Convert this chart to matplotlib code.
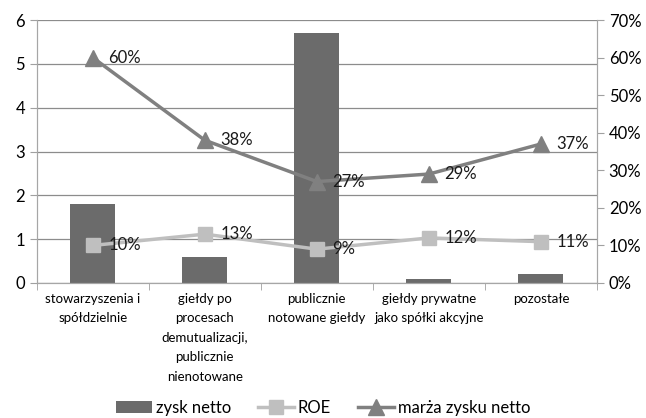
import numpy as np
import matplotlib.pyplot as plt
from matplotlib.ticker import PercentFormatter

plt.rcParams['font.family'] = ['Lato', 'DejaVu Sans']

# Data
categories = ['stowarzyszenia i\nspółdzielnie',
              'giełdy po\nprocesach\ndemutualizacji,\npublicznie\nnienotowane',
              'publicznie\nnotowane giełdy',
              'giełdy prywatne\njako spółki akcyjne',
              'pozostałe']
zysk_netto = [1.8, 0.6, 5.7, 0.1, 0.2]
roe = [10, 13, 9, 12, 11]
marza = [60, 38, 27, 29, 37]

x = np.arange(len(categories))

fig = plt.figure(figsize=(6.46, 4.18), dpi=100)
ax = fig.add_axes([0.057, 0.323, 0.867, 0.629])
ax2 = ax.twinx()

bars = ax.bar(x, zysk_netto, width=0.4, color='#6b6b6b', zorder=2, label='zysk netto')
ax.set_ylim(0, 6)
ax.set_xlim(-0.5, len(categories) - 0.5)
ax.set_yticks(range(7))
ax.grid(axis='y', color='#8c8c8c', linewidth=0.9, zorder=0)
ax.set_axisbelow(True)

l1, = ax2.plot(x, roe, color='#bfbfbf', linewidth=2.5, marker='s', markersize=10,
               label='ROE', zorder=3)
l2, = ax2.plot(x, marza, color='#808080', linewidth=2.5, marker='^', markersize=11,
               label='marża zysku netto', zorder=3)
ax2.set_ylim(0, 70)
ax2.set_yticks(range(0, 71, 10))
ax2.yaxis.set_major_formatter(PercentFormatter(decimals=0))

# data labels to the right of the markers
for xi, v in zip(x, roe):
    ax2.annotate(f'{v}%', (xi, v), xytext=(11, 0), textcoords='offset points',
                 va='center', ha='left', fontsize=12, color='#1a1a1a', zorder=4)
for xi, v in zip(x, marza):
    ax2.annotate(f'{v}%', (xi, v), xytext=(11, 0), textcoords='offset points',
                 va='center', ha='left', fontsize=12, color='#1a1a1a', zorder=4)

ax.set_xticks(x)
ax.set_xticklabels(categories, fontsize=9.5, va='top')
for lbl in ax.get_xticklabels():
    lbl.set_linespacing(1.75)
ax.tick_params(axis='x', which='major', length=0, pad=7)
ax.set_xticks(np.arange(-0.5, len(categories)), minor=True)
ax.tick_params(axis='x', which='minor', length=5, color='#a0a0a0')
ax.tick_params(axis='y', labelsize=12, length=5, color='#a0a0a0')
ax2.tick_params(axis='y', labelsize=12, length=5, color='#a0a0a0')

for a in (ax, ax2):
    a.spines['top'].set_visible(False)
    for s in ('left', 'right', 'bottom'):
        a.spines[s].set_color('#a6a6a6')

fig.legend([bars, l1, l2], ['zysk netto', 'ROE', 'marża zysku netto'],
           loc='lower center', bbox_to_anchor=(0.5, -0.03), ncol=3, frameon=False,
           fontsize=12, handlelength=2.2, columnspacing=1.6, handletextpad=0.2)

fig.savefig('out.png', dpi=100)
